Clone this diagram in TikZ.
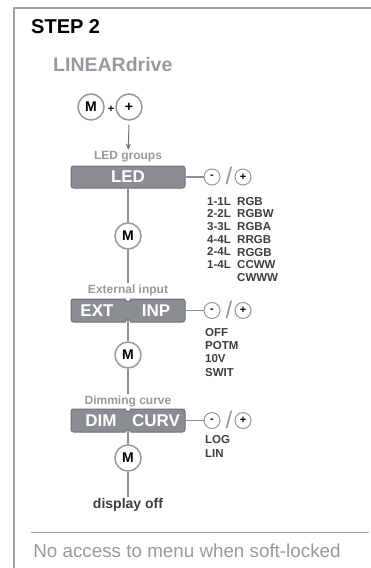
\documentclass[tikz,border=0pt]{standalone}
\usepackage{fontspec}
\setmainfont{Liberation Sans}
\usetikzlibrary{positioning,calc,arrows.meta}

\definecolor{framegray}{RGB}{160,164,168}
\definecolor{labelgray}{RGB}{150,153,157}
\definecolor{boxfill}{RGB}{138,141,145}
\definecolor{boxline}{RGB}{110,113,117}
\definecolor{wiregray}{RGB}{140,143,147}
\definecolor{ringgray}{RGB}{150,152,155}
\definecolor{textdark}{RGB}{62,62,64}

\begin{document}
\begin{tikzpicture}[
    x=1pt, y=-1pt,
    menubox/.style={rectangle, rounded corners=2.5pt, draw=boxline, line width=1pt, fill=boxfill, minimum width=114pt, minimum height=22pt, inner sep=0pt},
    boxword/.style={text=white, font=\bfseries\fontsize{17}{17}\selectfont, inner sep=0pt},
    bigkey/.style={circle, draw=ringgray, line width=1.5pt, fill=white, minimum size=26pt, inner sep=0pt, font=\bfseries\fontsize{14}{14}\selectfont},
    smallkey/.style={circle, draw=ringgray, line width=1pt, fill=white, minimum size=16pt, inner sep=0pt, font=\bfseries\fontsize{11}{11}\selectfont},
    slash/.style={text=ringgray, font=\fontsize{24}{24}\selectfont, inner sep=0pt},
    caption/.style={text=labelgray, font=\bfseries\fontsize{12}{12}\selectfont, inner sep=1.5pt},
    option/.style={text=textdark, font=\bfseries\fontsize{11.5}{#1}\selectfont, align=left, inner sep=0pt, anchor=north west},
    wire/.style={draw=wiregray, line width=1.5pt}
]
    \useasboundingbox (0,0) rectangle (371,568);
    \draw[framegray, line width=2pt] (371,8) -- (14,8) -- (14,568);

    \node[anchor=west, inner sep=0pt, font=\bfseries\fontsize{20}{20}\selectfont] (step) at (31,27) {STEP 2};
    \node[anchor=west, inner sep=0pt, text=labelgray, font=\bfseries\fontsize{19.5}{20}\selectfont] (drive) at (53,65) {LINEARdrive};

    % key combination
    \node[bigkey] (mkey) at (91,107) {M};
    \node[inner sep=0pt, font=\bfseries\fontsize{11}{11}\selectfont] (plussign) at (111,109) {+};
    \node[bigkey] (pkey) at (129,107) {+};

    % LED groups
    \node[caption] (ledcap) at (128,157) {LED groups};
    \node[menubox] (led) at (128,177) {};
    \node[boxword] (ledword) at (led) {LED};
    \node[smallkey] (ledminus) at (212,177) {-};
    \node[slash] (ledslash) at (229,176) {/};
    \node[smallkey] (ledplus) at (243,177) {+};
    \node[option=12.7] (ledcodes) at (207,197) {1-1L\\2-2L\\3-3L\\4-4L\\2-4L\\1-4L};
    \node[option=12.7] (ledmodes) at (237,197) {RGB\\RGBW\\RGBA\\RRGB\\RGGB\\CCWW\\CWWW};
    \node[bigkey] (mled) at (128,236) {M};

    \draw[-{Stealth[length=6pt,width=5pt]}, wiregray!80!black, line width=1pt] ([yshift=-4pt]pkey.south) -- (ledcap);
    \draw[wire] (led) -- (ledminus);
    \draw[wire] (led) -- (mled);

    % external input
    \node[caption] (extcap) at (128,290) {External input};
    \node[menubox, minimum height=23pt] (ext) at (128,310.5) {};
    \node[boxword] (extword) at (97,310.5) {EXT};
    \node[boxword] (inpword) at (156,310.5) {INP};
    \foreach \n in {ext} {
        \fill[white] ([xshift=-3pt,yshift=1pt]\n.north) -- ([xshift=-3pt]\n.north) arc[start angle=180, end angle=360, radius=3pt] -- ([xshift=3pt,yshift=1pt]\n.north) -- cycle;
        \draw[boxline, line width=1pt] ([xshift=-3pt]\n.north) arc[start angle=180, end angle=360, radius=3pt];
        \fill[white] ([xshift=-3pt,yshift=-1pt]\n.south) -- ([xshift=-3pt]\n.south) arc[start angle=180, end angle=0, radius=3pt] -- ([xshift=3pt,yshift=-1pt]\n.south) -- cycle;
        \draw[boxline, line width=1pt] ([xshift=-3pt]\n.south) arc[start angle=180, end angle=0, radius=3pt];
    }
    \node[smallkey] (extminus) at (212,310.5) {-};
    \node[slash] (extslash) at (229,309.5) {/};
    \node[smallkey] (extplus) at (243,310.5) {+};
    \node[option=13.3] (extmodes) at (205,328) {OFF\\POTM\\10V\\SWIT};
    \node[bigkey] (mext) at (128,355) {M};

    \draw[wire] (mled) -- (extcap);
    \draw[wire] (ext) -- (extminus);
    \draw[wire] ([yshift=3pt]ext.south) -- (mext);

    % dimming curve
    \node[caption] (dimcap) at (128,401) {Dimming curve};
    \node[menubox, minimum height=23pt] (dim) at (128,420.5) {};
    \node[boxword] (dimword) at (101,420.5) {DIM};
    \node[boxword] (curvword) at (156,420.5) {CURV};
    \foreach \n in {dim} {
        \fill[white] ([xshift=-3pt,yshift=1pt]\n.north) -- ([xshift=-3pt]\n.north) arc[start angle=180, end angle=360, radius=3pt] -- ([xshift=3pt,yshift=1pt]\n.north) -- cycle;
        \draw[boxline, line width=1pt] ([xshift=-3pt]\n.north) arc[start angle=180, end angle=360, radius=3pt];
        \fill[white] ([xshift=-3pt,yshift=-1pt]\n.south) -- ([xshift=-3pt]\n.south) arc[start angle=180, end angle=0, radius=3pt] -- ([xshift=3pt,yshift=-1pt]\n.south) -- cycle;
        \draw[boxline, line width=1pt] ([xshift=-3pt]\n.south) arc[start angle=180, end angle=0, radius=3pt];
    }
    \node[smallkey] (dimminus) at (212,420.5) {-};
    \node[slash] (dimslash) at (229,419.5) {/};
    \node[smallkey] (dimplus) at (243,420.5) {+};
    \node[option=14] (dimmodes) at (205,435) {LOG\\LIN};
    \node[bigkey] (mdim) at (128,458) {M};
    \node[text=textdark, inner sep=1.5pt, font=\bfseries\fontsize{14}{14}\selectfont] (off) at (128,505) {display off};

    \draw[wire] (mext) -- (dimcap);
    \draw[wire] (dim) -- (dimminus);
    \draw[wire] ([yshift=3pt]dim.south) -- (mdim);
    \draw[wire] (mdim) -- (off);

    % footer
    \draw[framegray, line width=1pt] (31,532) -- (369,532);
    \node[text=labelgray, inner sep=0pt, font=\fontsize{18.8}{19}\selectfont] (note) at (187,551) {No access to menu when soft-locked};
\end{tikzpicture}
\end{document}
